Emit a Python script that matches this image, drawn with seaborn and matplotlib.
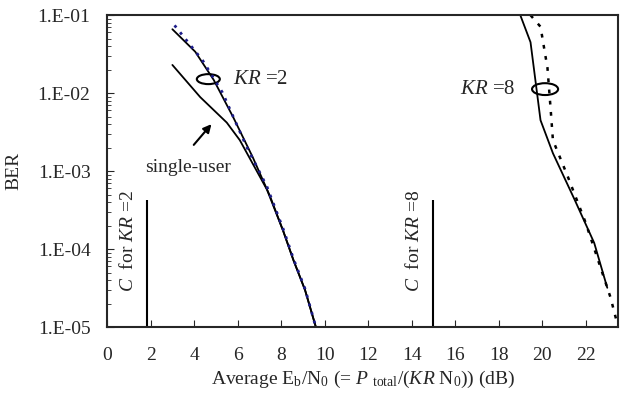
import numpy as np
import matplotlib
matplotlib.use("Agg")
import matplotlib.pyplot as plt
from matplotlib.patches import Ellipse
import seaborn as sns

# BER curves (x in dB)
kr2_x = [3.0, 4.05, 4.9, 5.8, 6.7, 7.5, 8.1, 8.57, 9.1, 9.6]
kr2_ber = [0.066, 0.034, 0.0148, 0.0049, 0.0015, 4.7e-4, 1.7e-4, 7.2e-5, 3.0e-5, 1.0e-5]

kr2_dot_x = [3.1, 4.4, 5.3, 6.4, 7.35, 8.1, 8.57, 9.1, 9.6]
kr2_dot_ber = [0.074, 0.026, 0.0102, 0.0021, 6.3e-4, 1.8e-4, 7.5e-5, 3.1e-5, 1.0e-5]

single_x = [3.0, 4.28, 5.5, 6.1, 7.35, 8.1, 8.57, 9.1, 9.6]
single_ber = [0.023, 0.0089, 0.0042, 0.0025, 5.8e-4, 1.7e-4, 7.2e-5, 3.0e-5, 1.0e-5]

kr8_x = [19.0, 19.47, 19.93, 20.5, 21.5, 22.4, 23.0]
kr8_ber = [0.1, 0.045, 0.0045, 0.0017, 4.3e-4, 1.2e-4, 3.2e-5]

kr8_dot_x = [19.47, 19.93, 20.25, 20.4, 20.5, 21.2, 22.0, 23.15, 23.5]
kr8_dot_ber = [0.1, 0.071, 0.021, 0.006, 0.0025, 8.3e-4, 2.2e-4, 2.4e-5, 1.0e-5]

# capacity limits
cap_x = [1.85, 15.0]
cap_labels = ["$C$  for $KR$ =2", "$C$  for $KR$ =8"]
cap_top = 4.3e-4

xticks = list(range(0, 24, 2))
yticks = [1e-5, 1e-4, 1e-3, 1e-2, 1e-1]
ytick_labels = ["1.E-05", "1.E-04", "1.E-03", "1.E-02", "1.E-01"]

sns.set_style("ticks")
plt.rcParams["font.family"] = ["Liberation Serif", "DejaVu Serif"]
plt.rcParams["mathtext.fontset"] = "custom"
plt.rcParams["mathtext.rm"] = "Liberation Serif"
plt.rcParams["mathtext.it"] = "Liberation Serif:italic"

fig = plt.figure(figsize=(6.34, 3.99), dpi=100)
ax = fig.add_axes([0.169, 0.180, 0.806, 0.782])

sns.lineplot(x=kr2_x, y=kr2_ber, ax=ax, color="black", lw=1.3, sort=False, estimator=None)
sns.lineplot(x=single_x, y=single_ber, ax=ax, color="black", lw=1.3, sort=False, estimator=None)
sns.lineplot(x=kr2_dot_x, y=kr2_dot_ber, ax=ax, color="#1c1c8a", lw=2.0,
             linestyle=(0, (1, 2.2)), sort=False, estimator=None)
sns.lineplot(x=kr8_x, y=kr8_ber, ax=ax, color="black", lw=1.3, sort=False, estimator=None)
sns.lineplot(x=kr8_dot_x, y=kr8_dot_ber, ax=ax, color="black", lw=1.8,
             linestyle=(0, (1.5, 3)), sort=False, estimator=None)

ax.vlines(cap_x, 1e-5, cap_top, color="black", lw=1.5)
for cx, lab in zip(cap_x, cap_labels):
    ax.text(cx - 0.88, 10 ** -3.9, lab, rotation=90, ha="center", va="center", fontsize=14)

ax.set_yscale("log")
ax.set_xlim(0, 23.5)
ax.set_ylim(1e-5, 1e-1)
ax.set_xticks(xticks)
ax.set_yticks(yticks)
ax.set_yticklabels(ytick_labels)
ax.tick_params(axis="both", which="both", direction="in", labelsize=14)
ax.tick_params(axis="y", which="major", length=5, pad=12)
ax.tick_params(axis="y", which="minor", length=3)
ax.tick_params(axis="x", length=5, pad=14)
for s in ax.spines.values():
    s.set_visible(True)
    s.set_linewidth(1.5)

ax.set_xlabel(r"Average E$_\mathrm{b}$/N$_0$ (= $P$ $_\mathrm{total}$/($KR$ N$_0$)) (dB)",
              fontsize=14, labelpad=4)
ax.set_ylabel("BER", fontsize=14)
ax.yaxis.set_label_coords(-0.166, 0.5)

# annotations
ax.add_patch(Ellipse((0.198, 0.795), 0.045, 0.032, transform=ax.transAxes,
                     fill=False, lw=1.5, color="black"))
ax.add_patch(Ellipse((0.857, 0.763), 0.051, 0.038, transform=ax.transAxes,
                     fill=False, lw=1.5, color="black"))
ax.text(5.8, 10 ** -1.83, "$KR$ =2", fontsize=15, ha="left", va="center")
ax.text(18.78, 10 ** -1.95, "$KR$ =8", fontsize=15, ha="right", va="center")
ax.annotate("", xy=(4.88, 10 ** -2.37), xytext=(3.9, 10 ** -2.69),
            arrowprops=dict(arrowstyle="-|>", color="black", lw=1.5, mutation_scale=12))
ax.text(3.73, 10 ** -2.95, "single-user", fontsize=14, ha="center", va="center")

fig.savefig("out.png", dpi=100)
